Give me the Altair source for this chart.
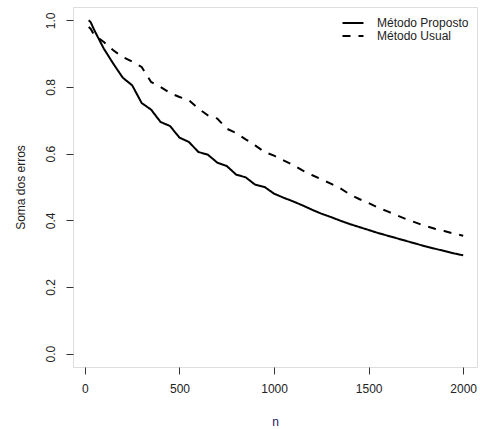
import altair as alt
import pandas as pd

n_vals = [20, 30, 50, 100, 150, 200, 250, 300, 350, 400, 450, 500, 550, 600, 650, 700,
          750, 800, 850, 900, 950, 1000, 1050, 1100, 1150, 1200, 1250, 1300, 1350, 1400,
          1450, 1500, 1550, 1600, 1650, 1700, 1750, 1800, 1850, 1900, 1950, 2000]

proposto = [1.000, 0.995, 0.970, 0.915, 0.870, 0.828, 0.805, 0.752, 0.732, 0.695, 0.683,
            0.648, 0.635, 0.605, 0.597, 0.573, 0.563, 0.537, 0.529, 0.507, 0.500, 0.480,
            0.468, 0.457, 0.445, 0.432, 0.420, 0.410, 0.399, 0.389, 0.380, 0.371, 0.362,
            0.354, 0.346, 0.338, 0.330, 0.322, 0.315, 0.308, 0.301, 0.295]

usual = [0.980, 0.975, 0.955, 0.935, 0.910, 0.890, 0.876, 0.860, 0.815, 0.800, 0.782,
         0.770, 0.760, 0.735, 0.715, 0.705, 0.675, 0.662, 0.643, 0.625, 0.605, 0.594,
         0.580, 0.566, 0.550, 0.536, 0.523, 0.510, 0.496, 0.478, 0.464, 0.452, 0.438,
         0.427, 0.415, 0.403, 0.393, 0.383, 0.375, 0.368, 0.360, 0.354]

series_names = ["Método Proposto", "Método Usual"]
x_ticks = [0, 500, 1000, 1500, 2000]
y_ticks = [0.0, 0.2, 0.4, 0.6, 0.8, 1.0]

rows = []
for i, n in enumerate(n_vals):
    rows.append({"n": n, "valor": proposto[i], "serie": series_names[0], "ord": i})
for i, n in enumerate(n_vals):
    rows.append({"n": n, "valor": usual[i], "serie": series_names[1], "ord": i})
df = pd.DataFrame(rows)

font = "Liberation Sans"
txt = "#222222"

chart = alt.Chart(df).mark_line(color="black", strokeWidth=2).encode(
    x=alt.X("n:Q",
            scale=alt.Scale(domain=[-63, 2073], nice=False, zero=False),
            axis=alt.Axis(values=x_ticks, format="d", title="n", grid=False, domain=False,
                          tickSize=7, tickColor="#333333", labelPadding=9,
                          labelFontSize=12, labelColor=txt, labelFont=font,
                          titleFontSize=12, titleColor="#1a1a5e", titleFont=font,
                          titleFontWeight="normal", titleX=202, titleY=54,
                          titleBaseline="middle", titleAlign="center")),
    y=alt.Y("valor:Q",
            scale=alt.Scale(domain=[-0.04, 1.04], nice=False, zero=False),
            axis=alt.Axis(values=y_ticks, format=".1f", title="Soma dos erros",
                          grid=False, domain=False, tickSize=7, tickColor="#333333",
                          labelAngle=-90, labelAlign="center", labelBaseline="bottom",
                          labelPadding=9, labelFontSize=12, labelColor=txt,
                          labelFont=font, titleFontSize=12, titleColor=txt,
                          titleFont=font, titleFontWeight="normal", titleAngle=-90,
                          titleX=-53, titleY=180, titleAlign="center",
                          titleBaseline="middle")),
    strokeDash=alt.StrokeDash("serie:N",
                              scale=alt.Scale(domain=series_names, range=[[1, 0], [8, 8]]),
                              legend=alt.Legend(title=None, orient="none", legendX=274,
                                                legendY=10, symbolType="M-2.5,0H2.5",
                                                symbolSize=70.56, symbolStrokeWidth=2,
                                                symbolStrokeColor="black",
                                                symbolFillColor="transparent",
                                                labelFontSize=12, labelFont=font,
                                                labelColor=txt, labelOffset=18,
                                                padding=0, rowPadding=1)),
    order="ord:Q",
).properties(
    width=404, height=360,
    autosize=alt.AutoSizeParams(type="none"),
    padding={"left": 73, "top": 7, "right": 3, "bottom": 62},
).configure_view(
    stroke="black", strokeWidth=1
).configure(font=font, background="white")

chart.save("out.html", embed_options={"renderer": "svg", "actions": False})
